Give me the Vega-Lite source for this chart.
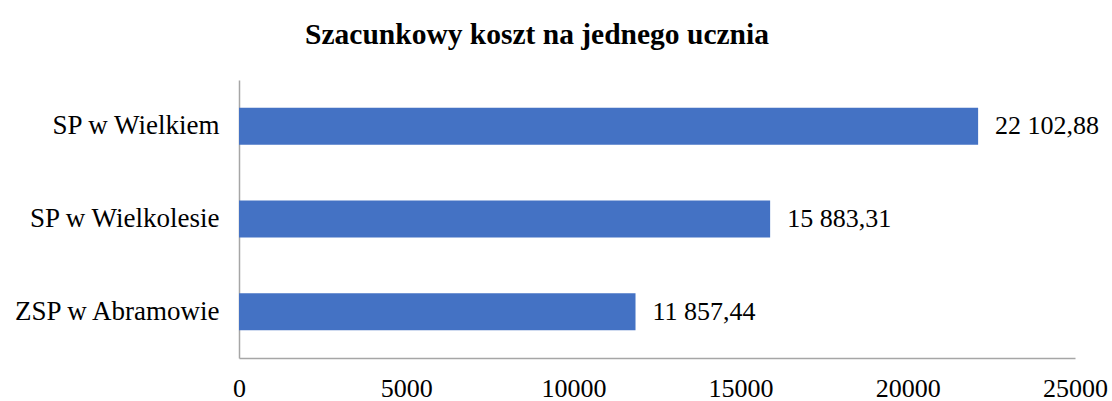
{
  "$schema": "https://vega.github.io/schema/vega-lite/v6.json",
  "autosize": {"type": "none"},
  "padding": {"left": 239, "top": 80, "right": 37, "bottom": 43},
  "width": 836,
  "height": 278,
  "title": {
    "text": "Szacunkowy koszt na jednego ucznia",
    "font": "Liberation Serif",
    "fontSize": 29.5,
    "fontWeight": "bold",
    "color": "#000000",
    "anchor": "middle",
    "frame": "group",
    "dx": -120,
    "offset": 30
  },
  "data": {
    "values": [
      {"szkola": "SP w Wielkiem", "koszt": 22102.88},
      {"szkola": "SP w Wielkolesie", "koszt": 15883.31},
      {"szkola": "ZSP w Abramowie", "koszt": 11857.44}
    ]
  },
  "encoding": {
    "y": {
      "field": "szkola",
      "type": "nominal",
      "sort": null,
      "scale": {"paddingInner": 0.6, "paddingOuter": 0.3},
      "axis": {
        "title": null,
        "domain": true,
        "domainColor": "#A6A6A6",
        "domainWidth": 1.5,
        "ticks": false,
        "labelPadding": 20,
        "labelLimit": 0,
        "labelFontSize": 27,
        "labelFont": "Liberation Serif",
        "labelColor": "#000000",
        "grid": false
      }
    },
    "x": {
      "field": "koszt",
      "type": "quantitative",
      "scale": {"domain": [0, 25000], "nice": false},
      "axis": {
        "title": null,
        "values": [0, 5000, 10000, 15000, 20000, 25000],
        "format": "d",
        "domain": true,
        "domainColor": "#A6A6A6",
        "domainWidth": 1.5,
        "ticks": false,
        "grid": false,
        "labelPadding": 17,
        "labelFontSize": 26,
        "labelFont": "Liberation Serif",
        "labelColor": "#000000",
        "labelFlush": false
      }
    }
  },
  "layer": [
    {"mark": {"type": "bar", "color": "#4472C4"}},
    {
      "mark": {
        "type": "text",
        "align": "left",
        "baseline": "middle",
        "dx": 17,
        "font": "Liberation Serif",
        "fontSize": 26,
        "color": "#000000"
      },
      "encoding": {"text": {"field": "koszt", "type": "quantitative", "format": ",.2f"}}
    }
  ],
  "config": {
    "view": {"stroke": null},
    "locale": {"number": {"decimal": ",", "thousands": " ", "grouping": [3], "currency": ["", " zł"]}}
  }
}
